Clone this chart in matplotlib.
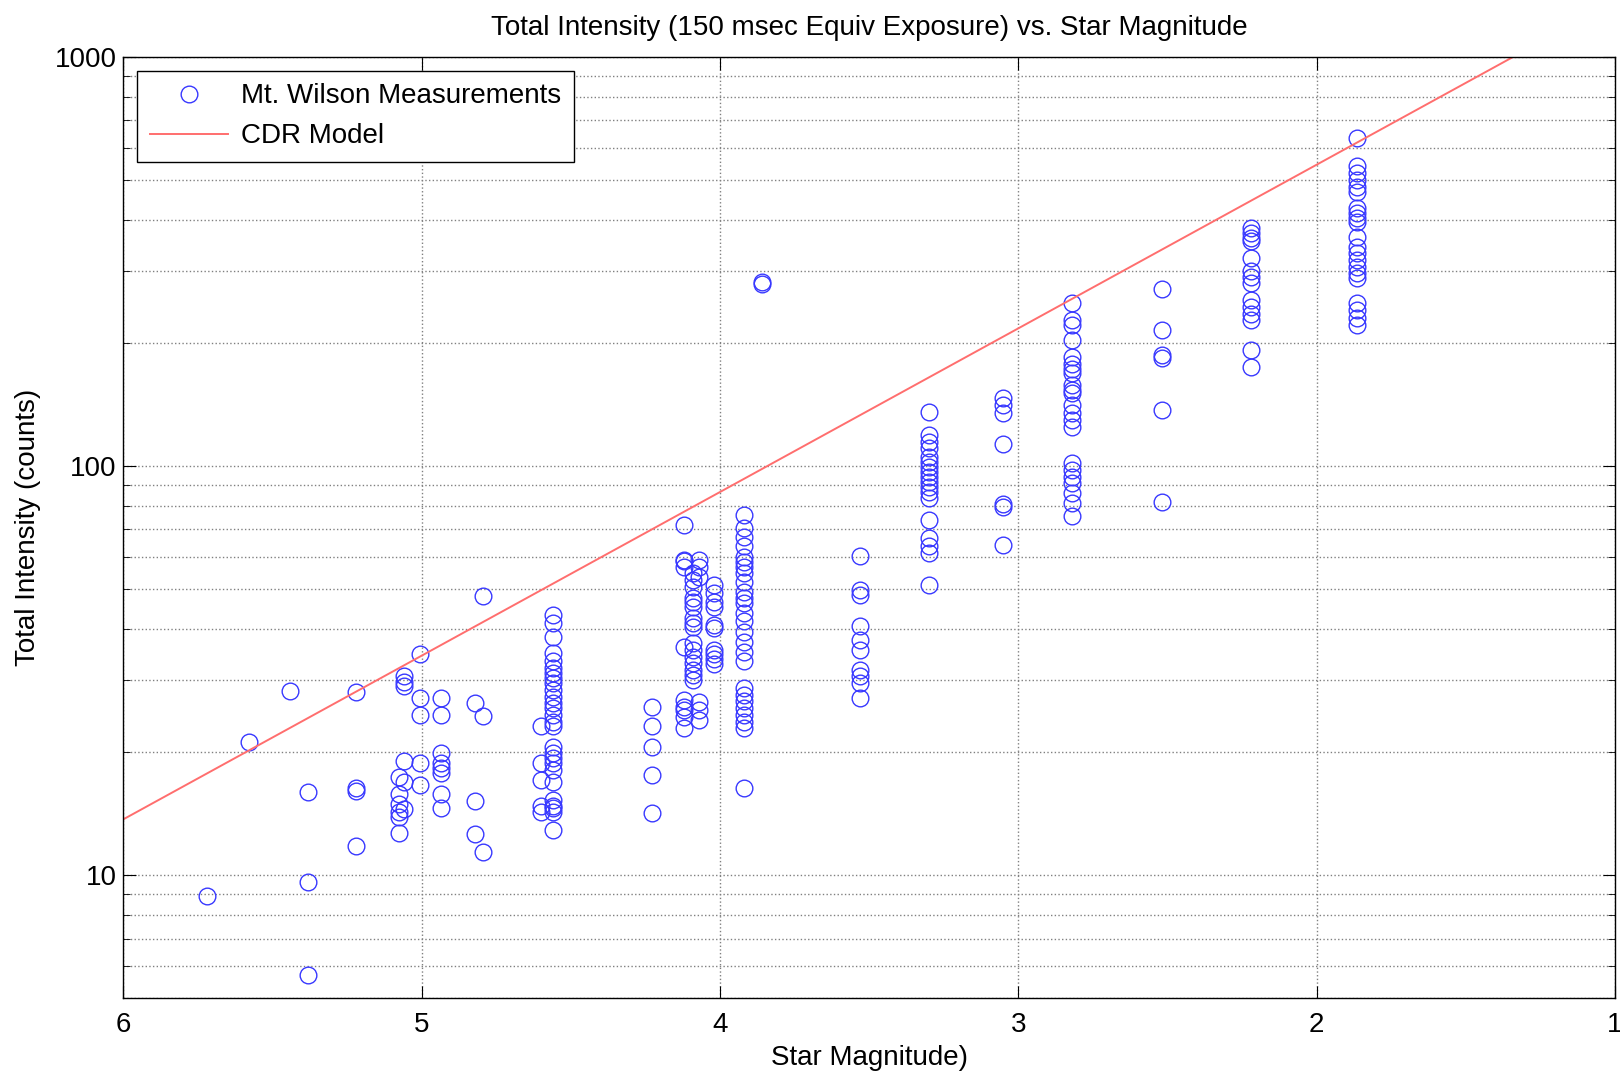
import numpy as np
import matplotlib
matplotlib.use('Agg')
import matplotlib.pyplot as plt
from matplotlib.ticker import LogLocator, NullFormatter

plt.rcParams['font.family'] = ['Liberation Sans', 'DejaVu Sans']

# Mt. Wilson measurements, grouped by star magnitude
col_mag = [5.72, 5.58, 5.44, 5.38, 5.22, 5.06, 5.076, 5.005, 4.935, 4.822, 4.795,
           4.60, 4.56, 4.227, 4.12, 4.09, 4.07, 4.02, 3.92, 3.86, 3.53, 3.30,
           3.05, 2.82, 2.52, 2.22, 1.865]
col_counts = [
    [8.9],
    [21.2],
    [28.2],
    [16.0, 9.6, 5.7],
    [28.0, 16.3, 16.1, 11.8],
    [30.6, 29.6, 29.0, 19.0, 16.9, 14.5],
    [17.4, 15.8, 14.9, 14.3, 13.9, 12.7],
    [34.8, 27.1, 24.6, 18.8, 16.6],
    [27.1, 24.6, 19.9, 18.8, 18.3, 17.8, 15.8, 14.6],
    [26.4, 15.2, 12.6],
    [48.2, 24.5, 11.4],
    [23.1, 18.8, 17.1, 14.8, 14.3],
    [43.3, 41.3, 38.3, 34.9, 33.3, 32.1, 31.2, 30.3, 29.5, 28.4, 27.3, 26.3, 25.6,
     24.6, 23.7, 23.1, 20.6, 19.9, 19.3, 18.8, 18.1, 16.9, 15.3, 14.8, 14.6, 14.3, 12.9],
    [25.7, 23.1, 20.6, 17.6, 14.2],
    [71.8, 59.0, 58.5, 56.6, 36.1, 26.8, 25.8, 25.3, 24.4, 22.9],
    [54.8, 52.6, 50.6, 47.6, 46.5, 45.3, 42.6, 41.3, 40.4, 37.0, 35.6, 34.1, 33.0,
     31.8, 30.8, 30.0],
    [59.0, 56.7, 53.5, 26.5, 25.3, 23.9],
    [51.2, 49.0, 46.5, 45.3, 40.8, 40.1, 35.6, 34.7, 33.7, 32.9],
    [76.0, 70.5, 67.2, 63.6, 60.1, 58.4, 56.8, 54.7, 52.2, 49.3, 47.5, 46.2, 43.7,
     41.7, 39.4, 37.2, 35.2, 33.3, 28.7, 27.6, 26.6, 25.6, 24.7, 23.7, 22.9, 16.3],
    [282, 279],
    [60.3, 49.8, 48.4, 40.7, 37.6, 35.5, 31.8, 30.6, 29.5, 27.1],
    [135.9, 119.1, 114.7, 110.6, 105.4, 102.5, 99.7, 96.9, 94.2, 91.6, 89.1, 86.6,
     83.5, 73.8, 66.6, 63.6, 61.2, 51.3],
    [147, 141, 135, 113, 81, 79.5, 64],
    [250, 227.5, 221, 203, 185, 178, 173, 169, 158, 153.5, 150.6, 141, 134.7, 129.7,
     124.9, 101.6, 97.9, 94.3, 90.9, 85.9, 81.1, 75.3],
    [271, 215, 187, 184, 137, 81.5],
    [381, 371, 360, 354, 322, 299, 290, 280, 255, 245, 236, 228, 192, 175],
    [633, 540, 520, 501, 482, 469, 427, 415, 403, 396, 364, 344, 331, 319, 307, 296,
     288, 250, 241, 230, 221],
]

# CDR model line end points
cdr_mag = [6.0, 1.0]
cdr_counts = [13.7, 1370.0]

xticks = [6, 5, 4, 3, 2, 1]
yticks = [10, 100, 1000]

mag = np.concatenate([[m] * len(c) for m, c in zip(col_mag, col_counts)])
counts = np.concatenate(col_counts)

fig = plt.figure(figsize=(16.2, 10.75), dpi=100)
ax = fig.add_axes([0.0762, 0.0713, 0.9207, 0.8757])

ax.semilogy(mag, counts, 'o', mfc='none', mec='#3838ff', ms=12, mew=1.0,
            label='Mt. Wilson Measurements')
ax.semilogy(cdr_mag, cdr_counts, '-', color='#ff6e6e', lw=1.4, label='CDR Model')

ax.set_xlim(6, 1)
ax.set_ylim(5, 1000)
ax.set_xticks(xticks)
ax.set_xticklabels([str(t) for t in xticks])
ax.set_yticks(yticks)
ax.set_yticklabels([str(t) for t in yticks])
ax.yaxis.set_minor_locator(LogLocator(base=10, subs=range(2, 10)))
ax.yaxis.set_minor_formatter(NullFormatter())

ax.grid(True, which='major', ls=':', color='#808080', lw=1.0)
ax.grid(True, which='minor', axis='y', ls=':', color='#808080', lw=1.0)
ax.tick_params(which='both', direction='in', top=True, right=True, labelsize=20)
ax.tick_params(which='major', length=9)
ax.tick_params(which='minor', length=5)
ax.tick_params(axis='x', pad=10)
ax.tick_params(axis='y', pad=5)
for s in ax.spines.values():
    s.set_linewidth(1.0)

ax.set_title('Total Intensity (150 msec Equiv Exposure) vs. Star Magnitude',
             fontsize=20, pad=16)
ax.set_xlabel('Star Magnitude)', fontsize=20, labelpad=5)
ax.set_ylabel('Total Intensity (counts)', fontsize=20, labelpad=10)

leg = ax.legend(loc='upper left', fontsize=20, fancybox=False, framealpha=1,
                edgecolor='black', handlelength=2.8, handletextpad=0.5,
                borderaxespad=0.5, borderpad=0.45, labelspacing=0.5)
leg.get_frame().set_linewidth(1.0)

fig.savefig('out.png', dpi=100)
